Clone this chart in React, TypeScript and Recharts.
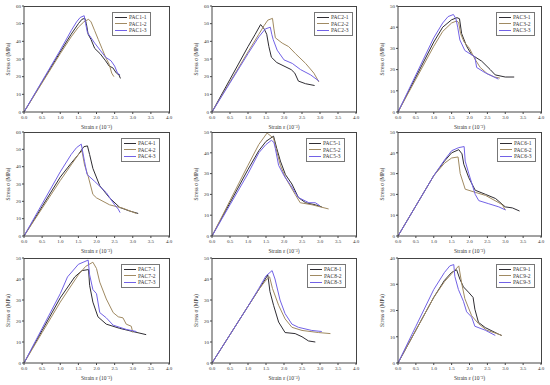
import { Legend, Line, LineChart, XAxis, YAxis } from "recharts";

type Pt = [number, number];

// strain (10^-3) , stress (MPa)
const pac1_1: Pt[] = [[0, 0], [0.5, 17], [1.0, 34], [1.3, 44], [1.5, 50], [1.6, 52.5], [1.68, 53], [1.72, 50], [1.77, 44], [1.85, 41], [1.95, 36], [2.1, 33], [2.25, 29], [2.35, 26], [2.45, 25], [2.55, 22], [2.62, 21], [2.66, 19]];
const pac1_2: Pt[] = [[0, 0], [0.5, 16.5], [1.0, 33], [1.3, 42.5], [1.5, 48], [1.65, 51], [1.78, 52.5], [1.85, 51], [1.95, 46], [2.05, 41], [2.15, 36], [2.25, 31], [2.35, 27], [2.42, 22], [2.48, 20]];
const pac1_3: Pt[] = [[0, 0], [0.5, 17.5], [1.0, 35], [1.3, 46], [1.45, 51], [1.55, 53.5], [1.66, 54.5], [1.7, 50], [1.75, 45], [1.85, 42], [1.95, 39], [2.1, 35], [2.25, 31], [2.4, 29], [2.5, 26], [2.58, 22], [2.65, 21]];

const pac2_1: Pt[] = [[0, 0], [0.5, 18.5], [1.0, 37], [1.2, 44], [1.35, 49.5], [1.45, 47], [1.52, 44], [1.58, 37], [1.65, 31], [1.8, 28], [2.0, 26], [2.2, 24], [2.3, 22], [2.4, 17.5], [2.6, 16], [2.85, 15]];
const pac2_2: Pt[] = [[0, 0], [0.5, 17], [1.0, 34], [1.3, 44], [1.45, 49], [1.55, 52], [1.68, 53], [1.72, 47], [1.76, 42], [1.95, 39], [2.13, 37], [2.32, 33], [2.6, 27.5], [2.83, 22], [2.97, 17]];
const pac2_3: Pt[] = [[0, 0], [0.5, 16.5], [1.0, 33], [1.3, 42.5], [1.48, 47], [1.62, 48], [1.66, 44], [1.7, 41], [1.81, 35], [2.0, 29.5], [2.23, 27.5], [2.46, 24], [2.74, 21], [2.97, 17.5]];

const pac3_1: Pt[] = [[0, 0], [0.5, 16.5], [1.0, 33], [1.25, 40], [1.5, 43.5], [1.65, 44.5], [1.72, 44], [1.78, 37], [1.92, 31], [2.06, 27], [2.34, 24], [2.58, 20], [2.72, 17.5], [3.0, 16.5], [3.25, 16.5]];
const pac3_2: Pt[] = [[0, 0], [0.5, 15.5], [1.0, 31], [1.25, 38], [1.5, 42], [1.65, 43], [1.7, 42], [1.75, 37], [1.85, 33], [2.0, 30], [2.15, 25], [2.3, 21], [2.5, 18], [2.7, 16.5], [2.85, 16]];
const pac3_3: Pt[] = [[0, 0], [0.5, 17.5], [1.0, 35], [1.25, 42], [1.4, 45], [1.55, 46], [1.62, 44], [1.67, 40], [1.73, 34], [1.87, 29], [2.15, 26], [2.2, 21], [2.44, 18.5], [2.81, 15.5]];

const pac4_1: Pt[] = [[0, 0], [0.5, 17], [1.0, 34], [1.3, 42], [1.5, 47], [1.65, 51.5], [1.75, 52], [1.81, 47], [1.9, 39], [2.09, 29], [2.36, 22], [2.64, 16.5], [2.9, 14.5], [3.15, 13]];
const pac4_2: Pt[] = [[0, 0], [0.5, 16], [1.0, 32], [1.3, 41], [1.5, 47], [1.6, 49], [1.67, 41], [1.77, 34.5], [1.9, 24], [2.0, 22], [2.36, 18], [2.73, 16], [3.1, 13]];
const pac4_3: Pt[] = [[0, 0], [0.5, 18.5], [1.0, 37], [1.3, 47], [1.45, 51], [1.58, 53], [1.67, 43], [1.74, 35.5], [1.95, 31.5], [2.27, 25], [2.5, 18], [2.6, 15.5], [2.65, 13.5]];

const pac5_1: Pt[] = [[0, 0], [0.5, 16], [1.0, 32], [1.3, 41], [1.5, 45.5], [1.71, 48], [1.8, 42], [1.9, 36], [2.04, 29.5], [2.22, 25], [2.4, 18.5], [2.6, 16], [2.87, 15], [3.05, 14]];
const pac5_2: Pt[] = [[0, 0], [0.5, 17], [1.0, 34], [1.3, 44], [1.53, 49.5], [1.71, 47], [1.78, 42], [1.9, 34], [2.04, 28], [2.31, 20], [2.45, 16], [2.78, 15], [3.24, 13]];
const pac5_3: Pt[] = [[0, 0], [0.5, 15], [1.0, 30], [1.3, 40], [1.5, 44], [1.65, 46], [1.72, 45], [1.76, 42], [1.85, 34], [2.0, 29], [2.2, 24], [2.4, 18.5], [2.69, 16], [2.87, 16], [3.0, 14.5]];

const pac6_1: Pt[] = [[0, 0], [0.5, 14.5], [1.0, 29], [1.3, 36], [1.5, 40], [1.7, 41.5], [1.79, 39.5], [1.84, 34.5], [1.98, 28], [2.16, 22], [2.45, 20], [2.73, 18], [3.0, 14], [3.2, 13.5], [3.4, 12]];
const pac6_2: Pt[] = [[0, 0], [0.5, 14.5], [1.0, 29], [1.3, 35], [1.5, 37.5], [1.68, 38], [1.74, 30], [1.88, 22.5], [2.16, 21], [2.45, 19.5], [2.82, 16], [2.92, 15], [3.0, 12.5]];
const pac6_3: Pt[] = [[0, 0], [0.5, 14.5], [1.0, 29], [1.3, 36.5], [1.5, 41], [1.7, 42.5], [1.85, 43], [1.88, 36], [1.98, 30], [2.16, 20], [2.26, 17], [2.54, 15.5], [2.82, 14], [3.01, 12.5]];

const pac7_1: Pt[] = [[0, 0], [0.5, 15.5], [1.0, 31], [1.4, 41], [1.6, 44], [1.78, 44.5], [1.81, 37], [1.9, 29], [2.04, 22], [2.27, 18.5], [2.64, 16.5], [3.0, 15], [3.37, 13.5]];
const pac7_2: Pt[] = [[0, 0], [0.5, 14.5], [1.0, 29], [1.5, 42], [1.7, 46], [1.9, 48], [2.0, 45], [2.09, 38.5], [2.27, 30.5], [2.46, 24], [2.6, 22], [2.73, 21.5], [2.82, 18.5], [2.96, 17.5], [3.0, 14.5]];
const pac7_3: Pt[] = [[0, 0], [0.5, 16.5], [1.0, 33], [1.2, 41], [1.5, 47], [1.77, 49], [1.81, 42], [1.9, 35], [2.0, 33], [2.09, 24], [2.27, 21.5], [2.46, 18], [2.82, 16], [3.1, 15]];

const pac8_1: Pt[] = [[0, 0], [0.5, 13.5], [1.0, 27], [1.3, 35], [1.5, 40.5], [1.55, 42], [1.61, 34], [1.71, 27.5], [1.85, 19.5], [2.03, 14.5], [2.31, 14], [2.5, 12.5], [2.68, 10.5], [2.87, 10]];
const pac8_2: Pt[] = [[0, 0], [0.5, 13.5], [1.0, 27], [1.3, 35], [1.5, 39.5], [1.6, 41], [1.68, 35.5], [1.85, 27.5], [2.03, 21], [2.22, 17], [2.5, 15.5], [2.96, 14.5], [3.29, 14]];
const pac8_3: Pt[] = [[0, 0], [0.5, 13.5], [1.0, 27], [1.3, 35.5], [1.5, 41.5], [1.67, 44], [1.75, 40], [1.89, 30], [2.03, 23.5], [2.22, 18.5], [2.4, 17], [2.77, 15.5], [3.05, 15]];

const pac9_1: Pt[] = [[0, 0], [0.5, 12.5], [1.0, 25], [1.3, 31.5], [1.5, 34.5], [1.64, 35.5], [1.73, 32], [1.83, 29], [1.97, 27], [2.1, 25], [2.15, 20.5], [2.25, 15.5], [2.44, 13.5], [2.81, 11], [2.9, 10.5]];
const pac9_2: Pt[] = [[0, 0], [0.5, 12.5], [1.0, 25], [1.3, 31], [1.5, 34], [1.7, 37], [1.78, 30.5], [1.87, 24.5], [2.06, 18], [2.25, 15], [2.48, 12.5], [2.81, 11], [2.9, 10.5]];
const pac9_3: Pt[] = [[0, 0], [0.5, 14], [1.0, 28], [1.3, 34.5], [1.45, 37], [1.56, 37.5], [1.59, 33], [1.69, 28], [1.83, 23.5], [1.92, 19.5], [2.06, 17.5], [2.15, 14], [2.44, 12.5], [2.72, 10.5]];

const panelNames = ["PAC1", "PAC2", "PAC3", "PAC4", "PAC5", "PAC6", "PAC7", "PAC8", "PAC9"];
const panelSeries = [
  [pac1_1, pac1_2, pac1_3],
  [pac2_1, pac2_2, pac2_3],
  [pac3_1, pac3_2, pac3_3],
  [pac4_1, pac4_2, pac4_3],
  [pac5_1, pac5_2, pac5_3],
  [pac6_1, pac6_2, pac6_3],
  [pac7_1, pac7_2, pac7_3],
  [pac8_1, pac8_2, pac8_3],
  [pac9_1, pac9_2, pac9_3],
];
const yMaxes = [60, 60, 50, 60, 50, 50, 50, 50, 40];
const xTicks = [0, 0.5, 1, 1.5, 2, 2.5, 3, 3.5, 4];

const COLORS = ["#2f2d33", "#a08a62", "#7262e6"];
const FONT = "'Liberation Serif', 'Times New Roman', serif";
const AXIS = "#444";

// plot area in page pixels: [left, width] per column, [top, height] per row
const COLS = [[24, 145], [212, 144], [398, 143]];
const ROWS = [[6, 106], [132, 104], [258, 105]];
const legendGap = [21, 6, 9, 12, 14, 8, 12, 13, 9];

const ML = 24;
const MT = 6;
const MR = 4;
const MB = 18;

function Panel({ idx }: { idx: number }) {
  const [pl, pw] = COLS[idx % 3];
  const [pt, ph] = ROWS[Math.floor(idx / 3)];
  const yMax = yMaxes[idx];
  const yTicks: number[] = [];
  for (let v = 0; v <= yMax; v += 10) yTicks.push(v);
  const name = panelNames[idx];

  return (
    <div style={{ position: "absolute", left: pl - ML, top: pt - MT, width: ML + pw + MR, height: MT + ph + MB }}>
      <LineChart width={ML + pw + MR} height={MT + ph + MB} margin={{ top: MT, right: MR, left: 0, bottom: 0 }}>
        <XAxis
          type="number"
          dataKey="x"
          domain={[0, 4]}
          ticks={xTicks}
          tickFormatter={(v: number) => v.toFixed(1)}
          height={MB}
          tickSize={2}
          tickMargin={1}
          stroke={AXIS}
          tick={{ fontSize: 5, fill: "#333", fontFamily: FONT }}
          label={{ value: "Strain ε (10⁻³)", position: "insideBottom", offset: 1, fontSize: 5.5, fill: "#333", fontFamily: FONT }}
        />
        <YAxis
          type="number"
          domain={[0, yMax]}
          ticks={yTicks}
          width={ML}
          tickSize={2}
          tickMargin={1}
          stroke={AXIS}
          tick={{ fontSize: 5, fill: "#333", fontFamily: FONT }}
          label={{
            value: "Stress σ (MPa)",
            angle: -90,
            position: "insideLeft",
            offset: 8,
            fontSize: 5.5,
            fill: "#333",
            fontFamily: FONT,
            style: { textAnchor: "middle" },
          }}
        />
        {panelSeries[idx].map((s, i) => (
          <Line
            key={i}
            data={s.map(([x, y]) => ({ x, y }))}
            dataKey="y"
            name={`${name}-${i + 1}`}
            type="linear"
            stroke={COLORS[i]}
            strokeWidth={1}
            dot={false}
            isAnimationActive={false}
          />
        ))}
        <Legend
          layout="vertical"
          align="center"
          verticalAlign="middle"
          wrapperStyle={{ left: ML + pw - legendGap[idx] - 36, top: MT + 6, width: "auto" }}
          content={({ payload }: any) => (
            <div
              style={{
                border: "1px solid #777",
                background: "#fff",
                padding: "1px 3px 1px 2px",
                fontFamily: FONT,
                fontSize: 5.5,
                lineHeight: "6.5px",
                color: "#333",
                whiteSpace: "nowrap",
              }}
            >
              {(payload || []).map((p: any) => (
                <div key={p.value} style={{ display: "flex", alignItems: "center" }}>
                  <span style={{ display: "inline-block", width: 12, borderTop: `1px solid ${p.color}`, marginRight: 2 }} />
                  {p.value}
                </div>
              ))}
            </div>
          )}
        />
      </LineChart>
      {/* box frame around the plot area */}
      <div
        style={{
          position: "absolute",
          left: ML,
          top: MT,
          width: pw + 1,
          height: ph + 1,
          borderTop: "1px solid #444",
          borderRight: "1px solid #444",
          boxSizing: "border-box",
          pointerEvents: "none",
          zIndex: 5,
        }}
      />
    </div>
  );
}

export default function App() {
  return (
    <div style={{ position: "absolute", left: 0, top: 0, width: 550, height: 385, background: "#fff" }}>
      {panelNames.map((_, i) => (
        <Panel key={i} idx={i} />
      ))}
    </div>
  );
}
